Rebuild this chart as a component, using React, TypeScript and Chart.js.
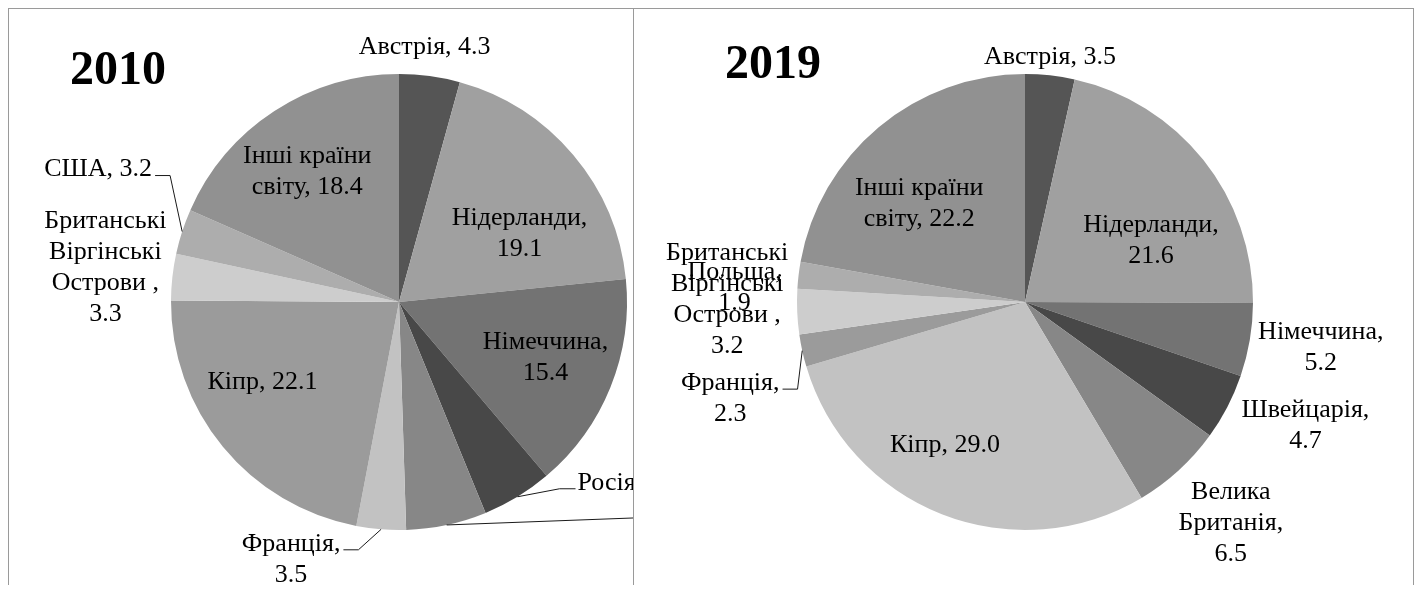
import React, { useEffect, useRef } from "react";
import { Chart, ArcElement, PieController } from "chart.js";

Chart.register(ArcElement, PieController);

// ---- data ----
const categories2010 = [
  "Австрія",
  "Нідерланди",
  "Німеччина",
  "Росія",
  "Велика Британія",
  "Франція",
  "Кіпр",
  "Британські Віргінські Острови ",
  "США",
  "Інші країни світу",
];
const values2010 = [4.3, 19.1, 15.4, 5.0, 5.7, 3.5, 22.1, 3.3, 3.2, 18.4];

const categories2019 = [
  "Австрія",
  "Нідерланди",
  "Німеччина",
  "Швейцарія",
  "Велика Британія",
  "Кіпр",
  "Франція",
  "Британські Віргінські Острови ",
  "Польща",
  "Інші країни світу",
];
const values2019 = [3.5, 21.6, 5.2, 4.7, 6.5, 29.0, 2.3, 3.2, 1.9, 22.2];

const sliceColors = [
  "#555555",
  "#a0a0a0",
  "#737373",
  "#484848",
  "#878787",
  "#c2c2c2",
  "#9b9b9b",
  "#cdcdcd",
  "#adadad",
  "#919191",
];

// words per line for each data label
const wrap2010 = [[3], [1, 1], [1, 1], [2], [3], [1, 1], [2], [1, 1, 2, 1], [2], [2, 2]];
const wrap2019 = [[2], [1, 1], [1, 1], [1, 1], [1, 1, 1], [2], [1, 1], [1, 1, 2, 1], [1, 1], [2, 2]];

type Place = { r: number; dx: number; dy: number; align?: "left"; leader?: "left" | "right" };

const place2010: Place[] = [
  { r: 1, dx: -5, dy: -29 },
  { r: 0.6, dx: 16, dy: 20 },
  { r: 0.65, dx: 9, dy: 0 },
  { r: 1, dx: 60, dy: -14, align: "left", leader: "left" },
  { r: 1, dx: 205, dy: -13, align: "left", leader: "left" },
  { r: 1, dx: -90, dy: 30, leader: "right" },
  { r: 0.65, dx: -22, dy: -14 },
  { r: 1, dx: -67, dy: -9 },
  { r: 1, dx: -84, dy: -62, leader: "right" },
  { r: 0.6, dx: -17, dy: -16 },
];

const place2019: Place[] = [
  { r: 1, dx: 0, dy: -18 },
  { r: 0.6, dx: 19, dy: 24 },
  { r: 1, dx: 71, dy: 8 },
  { r: 1, dx: 78, dy: 19 },
  { r: 1, dx: 52, dy: 53 },
  { r: 0.65, dx: -26, dy: 5 },
  { r: 1, dx: -72, dy: 48, leader: "right" },
  { r: 1, dx: -70, dy: -12 },
  { r: 1, dx: -64, dy: 12 },
  { r: 0.6, dx: -18, dy: 7 },
];

const FONT = '"Liberation Serif", "Times New Roman", serif';
const LABEL_SIZE = 26;
const LINE_H = 31;

function buildLines(cat: string, val: number, wrap: number[]): string[] {
  const words = `${cat}, ${val.toFixed(1)}`.split(" ").filter((w) => w.length);
  const out: string[] = [];
  let k = 0;
  for (const n of wrap) {
    out.push(words.slice(k, k + n).join(" "));
    k += n;
  }
  if (k < words.length) out[out.length - 1] += " " + words.slice(k).join(" ");
  return out;
}

function makePlugin(title: string, tx: number, ty: number, cats: string[], vals: number[], wraps: number[][], places: Place[]) {
  return {
    id: "pieLabels",
    afterDraw(chart: any) {
      const ctx: CanvasRenderingContext2D = chart.ctx;
      const meta = chart.getDatasetMeta(0);
      ctx.save();
      // title
      ctx.font = `bold 48px ${FONT}`;
      ctx.fillStyle = "#000";
      ctx.textAlign = "center";
      ctx.textBaseline = "middle";
      ctx.fillText(title, tx, ty);

      ctx.font = `${LABEL_SIZE}px ${FONT}`;
      meta.data.forEach((arc: any, i: number) => {
        const { x, y, startAngle, endAngle, outerRadius } = arc.getProps(
          ["x", "y", "startAngle", "endAngle", "outerRadius"],
          true
        );
        const mid = (startAngle + endAngle) / 2;
        const p = places[i];
        const ex = x + Math.cos(mid) * outerRadius;
        const ey = y + Math.sin(mid) * outerRadius;
        const ax = x + Math.cos(mid) * outerRadius * p.r + p.dx;
        const ay = y + Math.sin(mid) * outerRadius * p.r + p.dy;
        const lines = buildLines(cats[i], vals[i], wraps[i]);
        const top = ay - ((lines.length - 1) * LINE_H) / 2;
        ctx.fillStyle = "#000";
        ctx.textAlign = p.align === "left" ? "left" : "center";
        ctx.textBaseline = "middle";
        lines.forEach((ln, j) => ctx.fillText(ln, ax, top + j * LINE_H));

        if (p.leader) {
          const w1 = ctx.measureText(lines[0]).width;
          let endX: number, kneeX: number;
          const endY = top + 6;
          if (p.leader === "left") {
            endX = ax - 2;
            kneeX = endX - 16;
          } else {
            endX = (p.align === "left" ? ax + w1 : ax + w1 / 2) + 3;
            kneeX = endX + 15;
          }
          ctx.strokeStyle = "#1a1a1a";
          ctx.lineWidth = 1;
          ctx.beginPath();
          ctx.moveTo(ex, ey);
          ctx.lineTo(kneeX, endY);
          ctx.lineTo(endX, endY);
          ctx.stroke();
        }
      });
      ctx.restore();
    },
  };
}

type PieProps = {
  width: number;
  height: number;
  title: string;
  titleX: number;
  titleY: number;
  cats: string[];
  vals: number[];
  wraps: number[][];
  places: Place[];
  padLeft: number;
};

function PieCanvas(props: PieProps) {
  const ref = useRef<HTMLCanvasElement | null>(null);
  useEffect(() => {
    if (!ref.current) return;
    const R = 228;
    const top = 65;
    const chart = new Chart(ref.current, {
      type: "pie",
      data: {
        labels: props.cats,
        datasets: [
          {
            data: props.vals,
            backgroundColor: sliceColors,
            borderWidth: 0,
          },
        ],
      },
      options: {
        animation: false,
        responsive: false,
        events: [],
        radius: R,
        layout: {
          padding: {
            left: props.padLeft,
            right: props.width - props.padLeft - 2 * R,
            top: top,
            bottom: props.height - top - 2 * R,
          },
        },
        plugins: { legend: { display: false }, tooltip: { enabled: false } },
      } as any,
      plugins: [
        makePlugin(props.title, props.titleX, props.titleY, props.cats, props.vals, props.wraps, props.places),
      ],
    });
    return () => chart.destroy();
  }, []);
  return (
    <canvas
      ref={ref}
      width={props.width}
      height={props.height}
      style={{ display: "block", width: props.width, height: props.height }}
    />
  );
}

const border = "1px solid #9a9a9a";

export default function App() {
  return (
    <div style={{ display: "flex", alignItems: "flex-start" }}>
      <div style={{ borderTop: border, borderLeft: border, borderRight: border, width: 625, height: 576, overflow: "hidden" }}>
        <PieCanvas
          width={625}
          height={576}
          title="2010"
          titleX={109}
          titleY={63}
          cats={categories2010}
          vals={values2010}
          wraps={wrap2010}
          places={place2010}
          padLeft={162}
        />
      </div>
      <div style={{ borderTop: border, borderRight: border, width: 781, height: 576, overflow: "hidden" }}>
        <PieCanvas
          width={781}
          height={576}
          title="2019"
          titleX={139}
          titleY={57}
          cats={categories2019}
          vals={values2019}
          wraps={wrap2019}
          places={place2019}
          padLeft={163}
        />
      </div>
    </div>
  );
}
